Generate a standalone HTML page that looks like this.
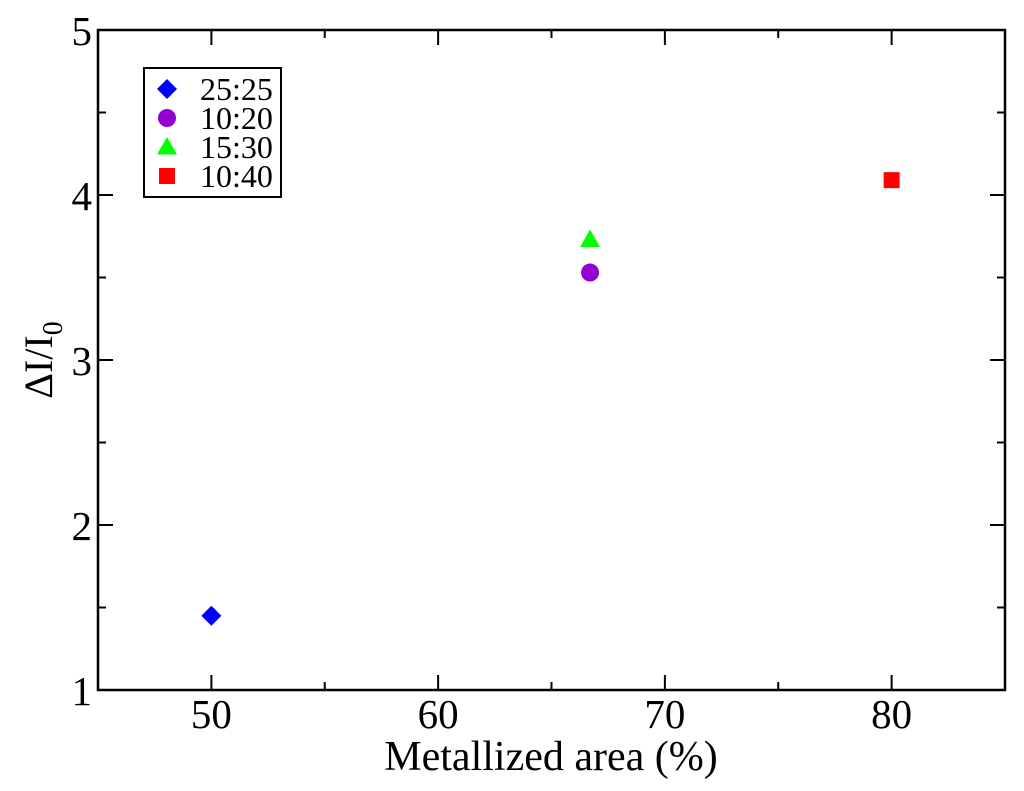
<!DOCTYPE html>
<html><head><meta charset="utf-8"><style>
html,body{margin:0;padding:0;background:#fff;}
svg{display:block;font-family:"Liberation Serif",serif;}
</style></head><body>
<svg id="chart" width="1024" height="791" viewBox="0 0 1024 791">
<g id="axes"></g><g id="marks"></g>
<g>
<rect x="144" y="68" width="137" height="129" fill="#fff" stroke="#000" stroke-width="2"/>
<g id="legend"></g>
</g>
<text x="551" y="770" font-size="42" text-anchor="middle">Metallized area (%)</text>
<text transform="translate(52,360) rotate(-90)" font-size="40" text-anchor="middle">ΔI/I<tspan font-size="28" dy="10">0</tspan></text>
</svg>
<script>
const seriesNames = ["25:25","10:20","15:30","10:40"];
const seriesColors = ["#0000ff","#9400d3","#00ff00","#ff0000"];
const seriesShapes = ["diamond","circle","triangle","square"];
const xValues = [50, 66.7, 66.7, 80];
const yValues = [1.45, 3.53, 3.73, 4.09];
const xTicks = [50,60,70,80];
const yTicks = [1,2,3,4,5];
const xMin=45,xMax=85,yMin=1,yMax=5;
const L=98,R=1005,T=30,B=690;
const sx=v=>L+(v-xMin)/(xMax-xMin)*(R-L);
const sy=v=>B-(v-yMin)/(yMax-yMin)*(B-T);
const NS="http://www.w3.org/2000/svg";
function mk(tag,attrs,parent){const e=document.createElementNS(NS,tag);for(const k in attrs)e.setAttribute(k,attrs[k]);parent.appendChild(e);return e;}
const axes=document.getElementById('axes');
const frame=mk('rect',{x:L,y:T,width:R-L,height:B-T,fill:'none',stroke:'#000','stroke-width':2.5},axes);


for(let v=xMin;v<=xMax;v+=5){const x=sx(v);const len=(v%10===0)?15:8;
 const t1=mk('line',{x1:x,y1:B,x2:x,y2:B-len,stroke:'#000','stroke-width':2},axes);
 
 
 const t2=mk('line',{x1:x,y1:T,x2:x,y2:T+len,stroke:'#000','stroke-width':2},axes);
 
 }
for(let v=yMin;v<=yMax;v+=0.5){const y=sy(v);const len=(v%1===0)?15:8;
 const t1=mk('line',{x1:L,y1:y,x2:L+len,y2:y,stroke:'#000','stroke-width':2},axes);
 
 
 const t2=mk('line',{x1:R,y1:y,x2:R-len,y2:y,stroke:'#000','stroke-width':2},axes);
 
 }
xTicks.forEach(v=>{const t=mk('text',{x:sx(v),y:B+38,'font-size':41,'text-anchor':'middle'},axes);t.textContent=v;
 
 });
yTicks.forEach(v=>{const t=mk('text',{x:L-6,y:sy(v)+15,'font-size':41,'text-anchor':'end'},axes);t.textContent=v;
 
 });
function marker(shape,x,y,c,parent,s){let e;
 if(shape==='diamond')e=mk('polygon',{points:`${x},${y-s} ${x+s},${y} ${x},${y+s} ${x-s},${y}`,fill:c},parent);
 else if(shape==='circle')e=mk('circle',{cx:x,cy:y,r:s*0.9,fill:c},parent);
 else if(shape==='triangle')e=mk('polygon',{points:`${x},${y-s} ${x+s},${y+s*0.75} ${x-s},${y+s*0.75}`,fill:c},parent);
 else e=mk('rect',{x:x-s*0.8,y:y-s*0.8,width:s*1.6,height:s*1.6,fill:c},parent);
 return e;}
const marks=document.getElementById('marks');
xValues.forEach((xv,i)=>{const e=marker(seriesShapes[i],sx(xv),sy(yValues[i]),seriesColors[i],marks,10);
 
 });
const leg=document.getElementById('legend');
seriesNames.forEach((n,i)=>{const y=89+i*29;
 const m=marker(seriesShapes[i],167,y,seriesColors[i],leg,10);
 
 
 const t=mk('text',{x:200,y:y+11,'font-size':32},leg);t.textContent=n;
 
 });
</script>
</body></html>
